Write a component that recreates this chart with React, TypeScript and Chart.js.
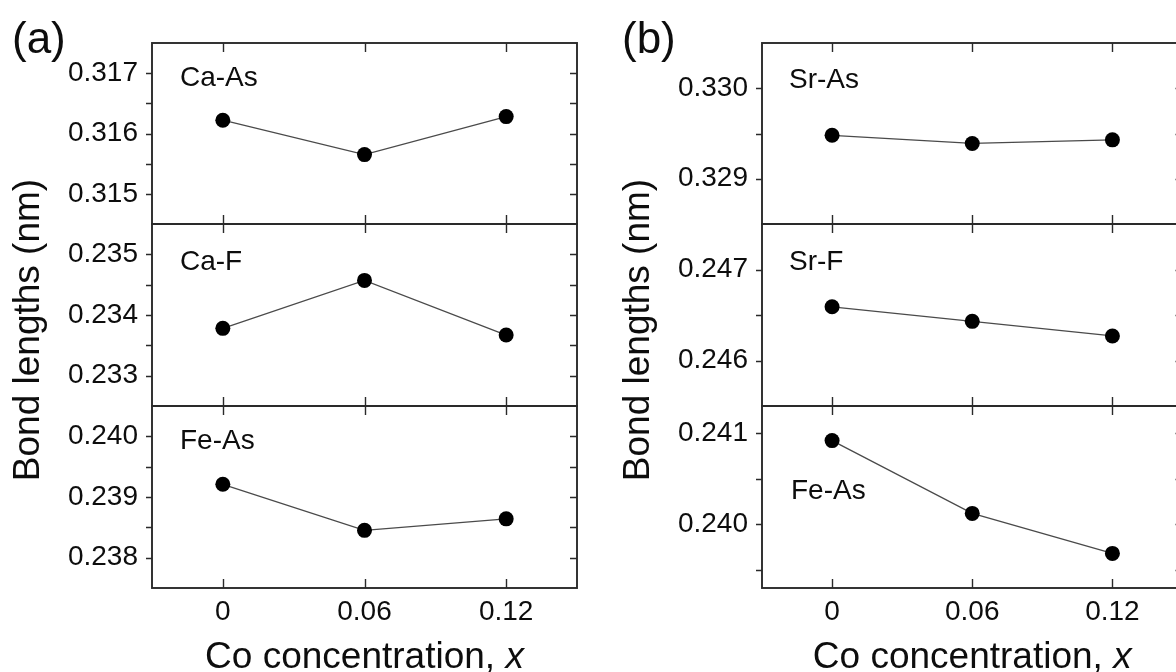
import React, { useEffect, useRef } from 'react';
import { Chart, registerables } from 'chart.js';

Chart.register(...registerables);

const FONT = "'Liberation Sans', Arial, Helvetica, sans-serif";

// ---------- data ----------
const xValues = [0, 0.06, 0.12];
const xTickValues = [0, 0.06, 0.12];
const xTickLabels = ['0', '0.06', '0.12'];
const xRange = [-0.03, 0.15];

const caAs = [0.31622, 0.31565, 0.31628];
const caF = [0.23378, 0.23457, 0.23367];
const feAsA = [0.23921, 0.23845, 0.23864];
const srAs = [0.32948, 0.32939, 0.32943];
const srF = [0.24659, 0.24643, 0.24627];
const feAsB = [0.24092, 0.24012, 0.23968];

const caAsTicks = [0.315, 0.316, 0.317];
const caAsMinor = [0.3155, 0.3165];
const caAsRange = [0.3145, 0.3175];
const caFTicks = [0.233, 0.234, 0.235];
const caFMinor = [0.2335, 0.2345];
const caFRange = [0.2325, 0.2355];
const feAsATicks = [0.238, 0.239, 0.24];
const feAsAMinor = [0.2385, 0.2395];
const feAsARange = [0.2375, 0.2405];

const srAsTicks = [0.329, 0.33];
const srAsMinor = [0.3295];
const srAsRange = [0.3285, 0.3305];
const srFTicks = [0.246, 0.247];
const srFMinor = [0.2465];
const srFRange = [0.2455, 0.2475];
const feAsBTicks = [0.24, 0.241];
const feAsBMinor = [0.2395, 0.2405];
const feAsBRange = [0.2393, 0.2413];

const bondLabels = ['Ca-As', 'Ca-F', 'Fe-As', 'Sr-As', 'Sr-F', 'Fe-As'];
const panelLetters = ['(a)', '(b)'];
const yTitle = 'Bond lengths (nm)';
const xTitleMain = 'Co concentration, ';
const xTitleVar = 'x';

// ---------- layout (pixels) ----------
const W = 1190;
const H = 672;
const YW = 120;
const XH = 50;
const panelLeft = [152, 762];
const panelRight = [577, 1185];
const rowTop = [43, 224, 406];
const rowBottom = [224, 406, 588];
const labelOffsets = [
  [28, 35], [28, 38], [28, 35],
  [27, 37], [27, 38], [29, 85],
];

const subplots = [
  { panel: 0, row: 0, values: caAs, range: caAsRange, major: caAsTicks, minor: caAsMinor, label: bondLabels[0] },
  { panel: 0, row: 1, values: caF, range: caFRange, major: caFTicks, minor: caFMinor, label: bondLabels[1] },
  { panel: 0, row: 2, values: feAsA, range: feAsARange, major: feAsATicks, minor: feAsAMinor, label: bondLabels[2] },
  { panel: 1, row: 0, values: srAs, range: srAsRange, major: srAsTicks, minor: srAsMinor, label: bondLabels[3] },
  { panel: 1, row: 1, values: srF, range: srFRange, major: srFTicks, minor: srFMinor, label: bondLabels[4] },
  { panel: 1, row: 2, values: feAsB, range: feAsBRange, major: feAsBTicks, minor: feAsBMinor, label: bondLabels[5] },
];

const TEXT = '#0d0d0d';
const FRAME = '#2a2a2a';
const TICK_FONT = 28;

const framePlugin = {
  id: 'subFrame',
  afterDraw(chart: any, _args: any, opts: any) {
    const { ctx, chartArea } = chart;
    const { left, right, top, bottom } = chartArea;
    const xs = chart.scales.x;
    const ys = chart.scales.y;
    ctx.save();
    ctx.strokeStyle = FRAME;
    ctx.lineWidth = 1.4;
    ctx.beginPath();
    xTickValues.forEach((v) => {
      const px = Math.round(xs.getPixelForValue(v)) + 0.5;
      ctx.moveTo(px, top);
      ctx.lineTo(px, top + 9);
      ctx.moveTo(px, bottom);
      ctx.lineTo(px, bottom - 9);
    });
    [...opts.major, ...opts.minor].forEach((v: number) => {
      const py = Math.round(ys.getPixelForValue(v)) + 0.5;
      ctx.moveTo(left - 6, py);
      ctx.lineTo(left, py);
      ctx.moveTo(right, py);
      ctx.lineTo(right - 7, py);
    });
    ctx.stroke();
    ctx.lineWidth = 1.9;
    ctx.strokeRect(left, top, right - left, bottom - top);
    ctx.font = `${TICK_FONT}px ${FONT}`;
    ctx.fillStyle = TEXT;
    ctx.textBaseline = 'middle';
    ctx.textAlign = 'left';
    ctx.fillText(opts.label, left + opts.dx, top + opts.dy);
    ctx.restore();
  },
};

const titlePlugin = {
  id: 'panelTitles',
  afterDraw(chart: any, _args: any, opts: any) {
    if (!opts || !opts.enabled) return;
    const { ctx, chartArea } = chart;
    ctx.save();
    ctx.fillStyle = TEXT;
    ctx.textBaseline = 'alphabetic';
    ctx.textAlign = 'left';
    ctx.font = `44px ${FONT}`;
    ctx.fillText(opts.letter, opts.letterX, opts.letterY);

    ctx.save();
    ctx.translate(opts.yTitleX, opts.yTitleY);
    ctx.rotate(-Math.PI / 2);
    ctx.font = `37px ${FONT}`;
    ctx.textAlign = 'center';
    ctx.fillText(yTitle, 0, 0);
    ctx.restore();

    ctx.font = `37px ${FONT}`;
    const wa = ctx.measureText(xTitleMain).width;
    ctx.font = `italic 37px ${FONT}`;
    const wb = ctx.measureText(xTitleVar).width;
    const cx = (chartArea.left + chartArea.right) / 2;
    const sx = cx - (wa + wb) / 2;
    ctx.font = `37px ${FONT}`;
    ctx.fillText(xTitleMain, sx, opts.xTitleY);
    ctx.font = `italic 37px ${FONT}`;
    ctx.fillText(xTitleVar, sx + wa, opts.xTitleY);
    ctx.restore();
  },
};

function makeConfig(sp: any, idx: number) {
  const L = panelLeft[sp.panel];
  const R = panelRight[sp.panel];
  const T = rowTop[sp.row];
  const B = rowBottom[sp.row];
  const isBottom = sp.row === 2;
  return {
    type: 'scatter',
    data: {
      datasets: [
        {
          data: xValues.map((x, i) => ({ x, y: sp.values[i] })),
          showLine: true,
          borderColor: '#4a4a4a',
          borderWidth: 1.3,
          tension: 0,
          pointRadius: 7.5,
          pointBackgroundColor: '#000',
          pointBorderColor: '#000',
          pointBorderWidth: 0,
          clip: false,
        },
      ],
    },
    plugins: [framePlugin, titlePlugin],
    options: {
      responsive: false,
      maintainAspectRatio: false,
      animation: false,
      devicePixelRatio: 1,
      events: [],
      layout: {
        padding: {
          left: L - YW,
          right: W - R,
          top: T,
          bottom: isBottom ? H - B - XH : H - B,
        },
      },
      plugins: {
        legend: { display: false },
        tooltip: { enabled: false },
        subFrame: {
          major: sp.major,
          minor: sp.minor,
          label: sp.label,
          dx: labelOffsets[idx][0],
          dy: labelOffsets[idx][1],
        },
        panelTitles: {
          enabled: isBottom,
          letter: panelLetters[sp.panel],
          letterX: L - 140,
          letterY: 53,
          yTitleX: L - 113,
          yTitleY: 330,
          xTitleY: 668,
        },
      },
      scales: {
        x: {
          type: 'linear',
          min: xRange[0],
          max: xRange[1],
          display: isBottom,
          grid: { display: false, drawTicks: false },
          border: { display: false },
          afterBuildTicks: (s: any) => {
            s.ticks = xTickValues.map((v) => ({ value: v }));
          },
          afterFit: (s: any) => {
            s.height = isBottom ? XH : 0;
          },
          ticks: {
            autoSkip: false,
            maxRotation: 0,
            padding: 7,
            color: TEXT,
            font: { size: TICK_FONT, family: FONT },
            callback: (v: number) => {
              const i = xTickValues.indexOf(v);
              return i >= 0 ? xTickLabels[i] : '';
            },
          },
        },
        y: {
          type: 'linear',
          min: sp.range[0],
          max: sp.range[1],
          grid: { display: false, drawTicks: false },
          border: { display: false },
          afterBuildTicks: (s: any) => {
            s.ticks = sp.major.map((v: number) => ({ value: v }));
          },
          afterFit: (s: any) => {
            s.width = YW;
          },
          ticks: {
            autoSkip: false,
            padding: 14,
            color: TEXT,
            font: { size: TICK_FONT, family: FONT },
            callback: (v: number) => v.toFixed(3),
          },
        },
      },
    },
  };
}

export default function App() {
  const refs = useRef<(HTMLCanvasElement | null)[]>([]);

  useEffect(() => {
    const charts = subplots.map((sp, i) => {
      const c = refs.current[i] as HTMLCanvasElement;
      return new Chart(c, makeConfig(sp, i) as any);
    });
    return () => charts.forEach((c) => c.destroy());
  }, []);

  return (
    <div
      style={{
        position: 'fixed',
        left: 0,
        top: 0,
        width: 1176,
        height: 672,
        overflow: 'hidden',
        background: '#fff',
      }}
    >
      {subplots.map((_, i) => (
        <canvas
          key={i}
          ref={(el) => {
            refs.current[i] = el;
          }}
          width={W}
          height={H}
          style={{ position: 'absolute', left: 0, top: 0, width: W, height: H }}
        />
      ))}
    </div>
  );
}
